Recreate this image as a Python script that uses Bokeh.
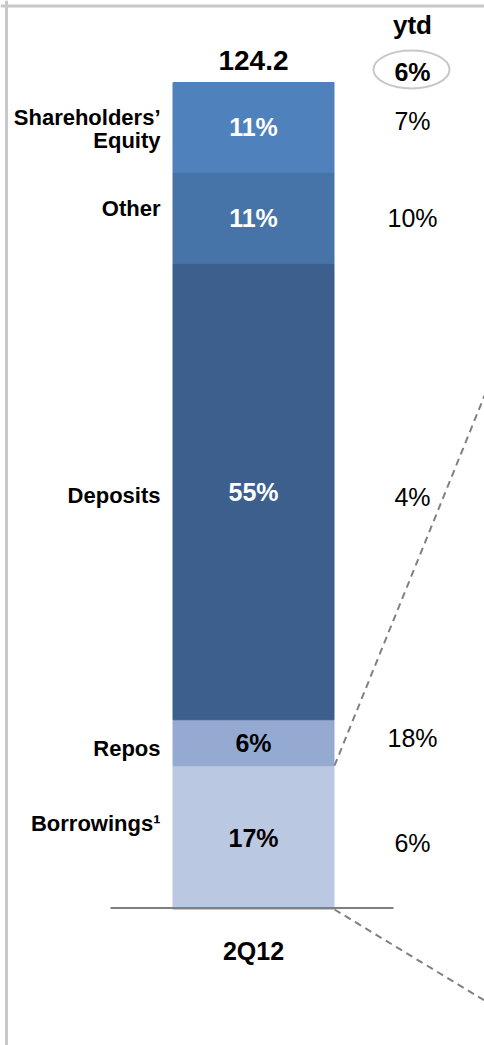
import numpy as np
from bokeh.plotting import figure
from bokeh.models import ColumnDataSource, Range1d, Span
from bokeh.core.properties import value
from bokeh.embed import file_html
from bokeh.resources import INLINE

# ---------------- data (bottom segment first) ----------------
period = "2Q12"
total_label = "124.2"
categories = ["Borrowings¹", "Repos", "Deposits", "Other", "Shareholders’\nEquity"]
amounts = [21.6, 6.9, 68.5, 13.7, 13.5]
share_labels = ["17%", "6%", "55%", "11%", "11%"]
ytd_header = "ytd"
ytd_total = "6%"
ytd_labels = ["6%", "18%", "4%", "10%", "7%"]

# ---------------- style / layout ----------------
colors = ["#BBC8E1", "#95AAD1", "#3C5F8E", "#4673A8", "#4F81BD"]
text_colors = ["#000000", "#000000", "#FFFFFF", "#FFFFFF", "#FFFFFF"]
left_dy = [-14, 6, 4, -10, 2]      # screen px nudges of category labels
right_dy = [5, -5, 5, 0, -6]       # screen px nudges of ytd labels
FONT = value("Liberation Sans")

W, H = 484, 1045
BAR_PX = 162.0            # bar width in px  (1 x-unit)
BAR_CX = 253.0            # bar centre in px
BAR_TOP, BAR_BOT = 82.0, 909.0
total = float(np.sum(amounts))
ppu = (BAR_BOT - BAR_TOP) / total      # px per y-unit

x0 = -BAR_CX / BAR_PX
x1 = (W - BAR_CX) / BAR_PX
y0 = -(H - BAR_BOT) / ppu
y1 = total + BAR_TOP / ppu

p = figure(width=W, height=H, x_range=Range1d(x0, x1), y_range=Range1d(y0, y1),
           output_backend="svg", toolbar_location=None, min_border=0,
           background_fill_color="white", border_fill_color="white")
p.axis.visible = False
p.grid.visible = False
p.outline_line_color = None

# frame of the slide panel
p.add_layout(Span(location=y1 - 5.5 / ppu, dimension="width",
                  line_color="#C8C8C8", line_width=3))
p.add_layout(Span(location=x0 + 6 / BAR_PX, dimension="height",
                  line_color="#C8C8C8", line_width=3))

# stacked bar
tops = np.cumsum(amounts)
bottoms = tops - np.array(amounts)
mids = (tops + bottoms) / 2
src = ColumnDataSource(dict(x=[0] * len(amounts), top=tops, bottom=bottoms,
                            color=colors, mid=mids, lab=share_labels, tc=text_colors))
p.vbar(x="x", width=1 - 1 / BAR_PX, top="top", bottom="bottom", fill_color="color",
       line_color="color", line_width=1, source=src)
p.text(x="x", y="mid", text="lab", text_color="tc", text_font=FONT,
       text_font_style="bold", text_font_size="25px", text_align="center",
       text_baseline="middle", source=src)

# baseline
p.segment(x0=-143 / BAR_PX, x1=140 / BAR_PX, y0=1.5 / ppu, y1=1.5 / ppu,
          line_color="#7F7F7F", line_width=2)

# leader lines (to zoom panel on the right)
p.segment(x0=[0.5, 0.5], y0=[tops[0], 0],
          x1=[x1, x1], y1=[tops[0] + 370 / ppu, -91 / ppu],
          line_color="#808080", line_width=2, line_dash="7 5")

# category labels (left)
lx, ly, lt, ld = [], [], [], []
LINE_H = 23
for cat, m, dy in zip(categories, mids, left_dy):
    lines = cat.split("\n")
    n = len(lines)
    for k, ln in enumerate(lines):
        lx.append(-0.5)
        ly.append(m)
        lt.append(ln)
        ld.append(dy + (k - (n - 1) / 2) * LINE_H)
p.text(x=lx, y=ly, text=lt, y_offset=ld, x_offset=-12, text_font=FONT,
       text_font_style="bold", text_font_size="22px", text_align="right",
       text_baseline="middle", text_color="#000000")

# ytd labels (right)
RX = 78
p.text(x=[0.5] * len(ytd_labels), y=mids, text=ytd_labels, y_offset=right_dy,
       x_offset=RX, text_font=FONT, text_font_size="25px", text_align="center",
       text_baseline="middle", text_color="#000000")

# header: total and ytd
p.text(x=[0], y=[total], text=[total_label], y_offset=-22, text_font=FONT,
       text_font_style="bold", text_font_size="28px", text_align="center",
       text_baseline="middle", text_color="#000000")
p.text(x=[0.5], y=[total], text=[ytd_header], y_offset=-58, x_offset=RX,
       text_font=FONT, text_font_style="bold", text_font_size="26px",
       text_align="center", text_baseline="middle", text_color="#000000")
p.ellipse(x=[0.5 + 77 / BAR_PX], y=[total + 13 / ppu], width=76, height=38,
          width_units="screen", height_units="screen", fill_color=None,
          line_color="#C8C8C8", line_width=2)
p.text(x=[0.5], y=[total], text=[ytd_total], y_offset=-11, x_offset=RX,
       text_font=FONT, text_font_style="bold", text_font_size="25px",
       text_align="center", text_baseline="middle", text_color="#000000")

# period label
p.text(x=[0], y=[0], text=[period], y_offset=41, text_font=FONT,
       text_font_style="bold", text_font_size="25px", text_align="center",
       text_baseline="middle", text_color="#000000")

open("out.html", "w").write(file_html(p, INLINE))
